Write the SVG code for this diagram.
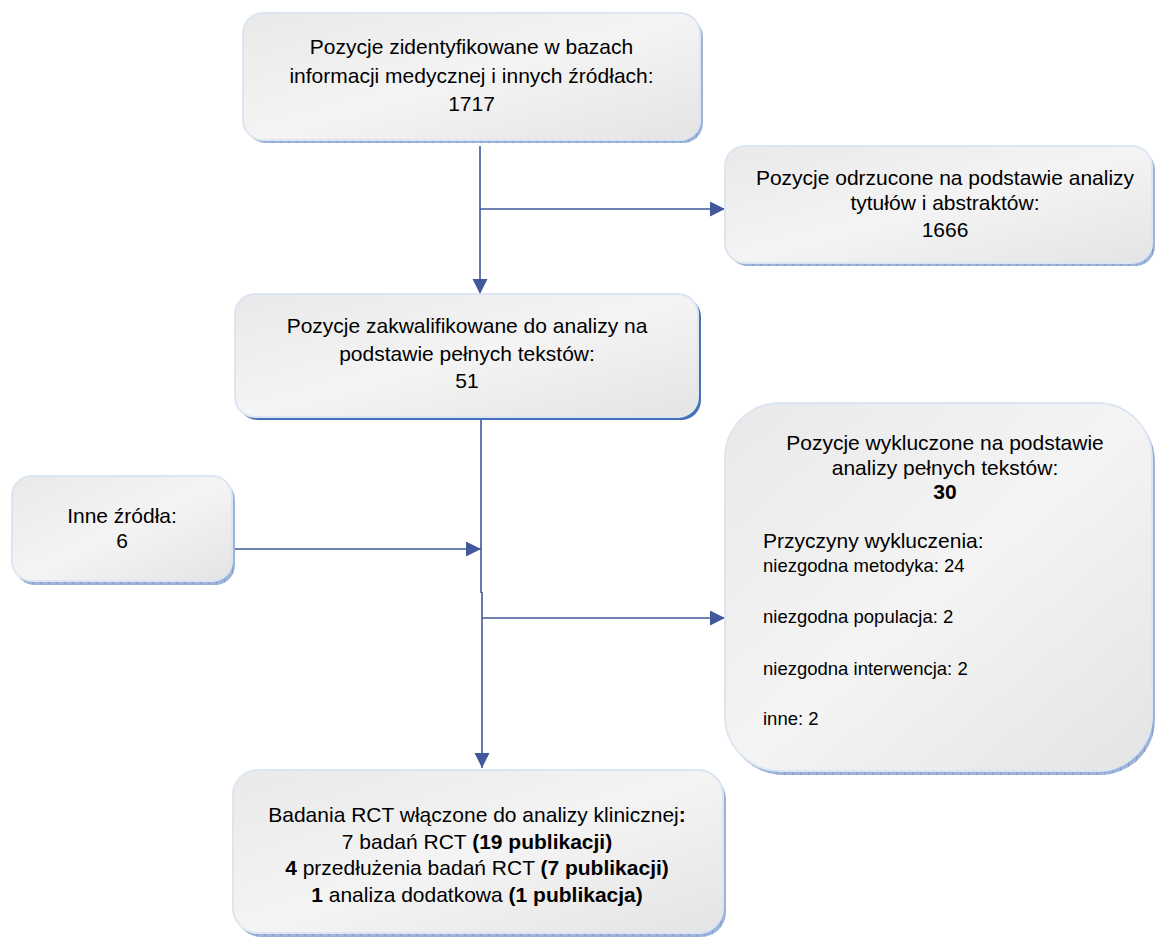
<svg xmlns="http://www.w3.org/2000/svg" width="1155" height="939" viewBox="0 0 1155 939">
<style>
.box{fill:url(#g);stroke:#dce6f2;stroke-width:2}
.sh{fill:url(#hatch)}
.sh2{fill:#4472b4}
text{font-family:"Liberation Sans",Arial,sans-serif;fill:#000}
.t{font-size:21px;text-anchor:middle}
.s{font-size:18.5px}
.b{font-weight:bold}
.c{fill:none;stroke:#41599b;stroke-width:1.6}
</style>
<defs>
<linearGradient id="g" x1="0" y1="0" x2="1" y2="1">
<stop offset="0" stop-color="#e9e9e9"/>
<stop offset="0.5" stop-color="#f4f4f4"/>
<stop offset="1" stop-color="#e4e4e4"/>
</linearGradient>
<pattern id="hatch" width="8" height="8" patternUnits="userSpaceOnUse">
<rect width="8" height="8" fill="#9db3d8"/>
<path d="M0 0V8" stroke="#6d8cc0" stroke-width="1"/>
</pattern>
<marker id="a" markerUnits="userSpaceOnUse" markerWidth="16" markerHeight="16" refX="15" refY="7.5" orient="auto">
<path d="M0,0 L15,7.5 L0,15 z" fill="#41599b"/>
</marker>
</defs>

<g id="connectors">
<line class="c" x1="480" y1="146" x2="480" y2="294" marker-end="url(#a)"/>
<line class="c" x1="480" y1="209" x2="725" y2="209" marker-end="url(#a)"/>
<line class="c" x1="481" y1="415" x2="481" y2="593"/>
<line class="c" x1="482" y1="592" x2="482" y2="768" marker-end="url(#a)"/>
<line class="c" x1="235" y1="549" x2="481" y2="549" marker-end="url(#a)"/>
<line class="c" x1="482" y1="618" x2="725" y2="618" marker-end="url(#a)"/>
</g>

<g id="n1">
<rect class="sh" x="246" y="17" width="457" height="126" rx="20"/>
<rect class="box" x="243" y="13" width="457" height="127" rx="20"/>
<text class="t" x="471.5" y="54">Pozycje zidentyfikowane w bazach</text>
<text class="t" x="471.5" y="83">informacji medycznej i innych źródłach:</text>
<text class="t" x="471.5" y="111">1717</text>
</g>

<g id="n2">
<rect class="sh" x="728" y="150" width="427" height="116" rx="20"/>
<rect class="box" x="725" y="146" width="427" height="117" rx="20"/>
<text class="t" x="945" y="185">Pozycje odrzucone na podstawie analizy</text>
<text class="t" x="945" y="210">tytułów i abstraktów:</text>
<text class="t" x="945" y="237">1666</text>
</g>

<g id="n3">
<rect class="sh2" x="238" y="297" width="463" height="123" rx="20"/>
<rect class="box" x="235" y="294" width="463" height="123" rx="20"/>
<text class="t" x="467" y="333">Pozycje zakwalifikowane do analizy na</text>
<text class="t" x="467" y="361">podstawie pełnych tekstów:</text>
<text class="t" x="467" y="388">51</text>
</g>

<g id="n4">
<rect class="sh" x="15" y="480" width="220" height="105" rx="20"/>
<rect class="box" x="12" y="476" width="220" height="105" rx="20"/>
<text class="t" x="122" y="523">Inne źródła:</text>
<text class="t" x="122" y="548">6</text>
</g>

<g id="n5">
<rect class="sh" x="728" y="407" width="427" height="368" rx="55"/>
<rect class="box" x="725" y="403" width="427" height="368" rx="55"/>
<text class="t" x="945" y="450">Pozycje wykluczone na podstawie</text>
<text class="t" x="945" y="475">analizy pełnych tekstów:</text>
<text class="t b" x="945" y="499">30</text>
<text x="763" y="548" style="font-size:21px">Przyczyny wykluczenia:</text>
<text class="s" x="763" y="572">niezgodna metodyka: 24</text>
<text class="s" x="763" y="623">niezgodna populacja: 2</text>
<text class="s" x="763" y="675">niezgodna interwencja: 2</text>
<text class="s" x="763" y="725">inne: 2</text>
</g>

<g id="n6">
<rect class="sh" x="236" y="774" width="490" height="163" rx="25"/>
<rect class="box" x="233" y="770" width="490" height="163" rx="25"/>
<text class="t" x="477" y="822">Badania RCT włączone do analizy klinicznej<tspan class="b">:</tspan></text>
<text class="t" x="477" y="849">7 badań RCT <tspan class="b">(19 publikacji)</tspan></text>
<text class="t" x="477" y="875"><tspan class="b">4</tspan> przedłużenia badań RCT <tspan class="b">(7 publikacji)</tspan></text>
<text class="t" x="477" y="902"><tspan class="b">1</tspan> analiza dodatkowa <tspan class="b">(1 publikacja)</tspan></text>
</g>
</svg>
